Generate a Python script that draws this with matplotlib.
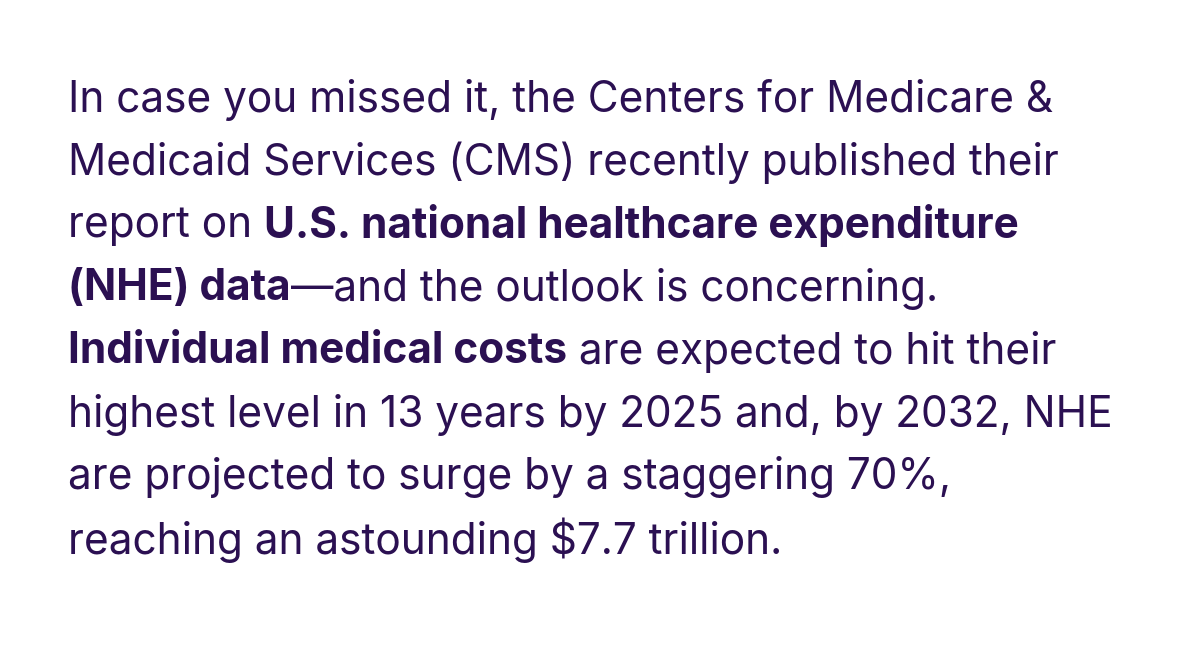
import matplotlib
matplotlib.use("Agg")
import matplotlib.pyplot as plt

lines = [
    [("In case you missed it, the Centers for Medicare &", False)],
    [("Medicaid Services (CMS) recently published their", False)],
    [("report on ", False), ("U.S. national healthcare expenditure", True)],
    [("(NHE) data", True), ("\u2014and the outlook is concerning.", False)],
    [("Individual medical costs", True), (" are expected to hit their", False)],
    [("highest level in 13 years by 2025 and, by 2032, NHE", False)],
    [("are projected to surge by a staggering 70%,", False)],
    [("reaching an astounding $7.7 trillion.", False)],
]

color = "#2b1052"
W, H = 1200, 665
fig = plt.figure(figsize=(W/100, H/100), dpi=100)
fig.patch.set_facecolor("white")
r = fig.canvas.get_renderer()
fs = 30.5
x0, y0, dy = 68, 100, 62.9
for i, segs in enumerate(lines):
    x = x0
    y = H - (y0 + i*dy)
    for txt, bold in segs:
        t = fig.text(x/W, y/H, txt, fontsize=fs, family="Inter", color=color,
                     fontweight="bold" if bold else "normal", va="center", ha="left")
        bb = t.get_window_extent(renderer=r)
        x += bb.width
fig.savefig("out.png", dpi=100, facecolor="white")
